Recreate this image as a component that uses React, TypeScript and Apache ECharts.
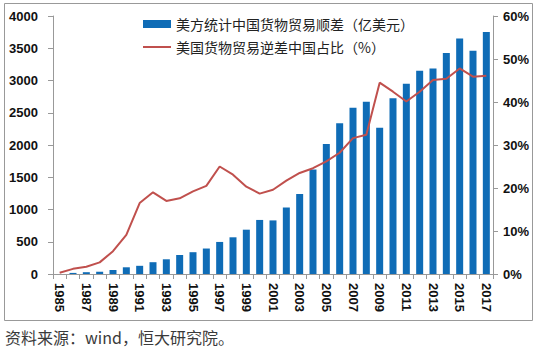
import React, { useEffect, useRef } from "react";
import * as echarts from "echarts";

const years = [
  "1985","1986","1987","1988","1989","1990","1991","1992","1993","1994","1995",
  "1996","1997","1998","1999","2000","2001","2002","2003","2004","2005","2006",
  "2007","2008","2009","2010","2011","2012","2013","2014","2015","2016","2017",
];
const surplus = [
  0, 17, 28, 35, 62, 104, 127, 183, 228, 295, 338,
  395, 497, 569, 687, 838, 831, 1031, 1240, 1620, 2016, 2336,
  2578, 2672, 2268, 2726, 2950, 3152, 3186, 3428, 3652, 3460, 3752,
];
const share = [
  0.3, 1.2, 1.7, 2.7, 5.3, 9.1, 16.5, 19.0, 17.0, 17.6, 19.2,
  20.5, 25.0, 23.1, 20.3, 18.7, 19.6, 21.7, 23.5, 24.6, 26.2, 28.2,
  31.6, 32.4, 44.5, 42.4, 40.1, 42.4, 45.1, 45.4, 47.8, 45.9, 46.1,
];
const barName = "美方统计中国货物贸易顺差（亿美元）";
const lineName = "美国货物贸易逆差中国占比（%）";
const sourceText = "资料来源：wind，恒大研究院。";

export default function App() {
  const ref = useRef<HTMLDivElement>(null);
  useEffect(() => {
    const chart = echarts.init(ref.current!, undefined, { renderer: "svg" });
    const axisFont = { fontFamily: "Liberation Sans, Arial", fontWeight: "bold", fontSize: 13, color: "#111" };
    const legendText = { fontFamily: "Noto Sans CJK SC", fontSize: 14, color: "#222" };
    chart.setOption({
      animation: false,
      backgroundColor: "#fff",
      grid: { left: 53, right: 44, top: 16, bottom: 78 },
      legend: [
        {
          left: 138,
          top: 12,
          itemWidth: 28,
          itemHeight: 8,
          textStyle: legendText,
          data: [{ name: barName, icon: "rect" }],
        },
        {
          left: 138,
          top: 35,
          itemWidth: 28,
          itemHeight: 2,
          textStyle: legendText,
          data: [{ name: lineName, icon: "rect" }],
        },
      ],
      xAxis: {
        type: "category",
        data: years,
        axisLine: { lineStyle: { color: "#999" } },
        axisTick: { show: true, alignWithLabel: false, interval: 0, length: 5, lineStyle: { color: "#999" } },
        axisLabel: { ...axisFont, rotate: -90, interval: 1, margin: 9 },
      },
      yAxis: [
        {
          type: "value",
          min: 0,
          max: 4000,
          interval: 500,
          splitLine: { show: false },
          axisLine: { show: true, lineStyle: { color: "#999" } },
          axisTick: { show: true, length: 5, lineStyle: { color: "#999" } },
          axisLabel: { ...axisFont, margin: 15, formatter: (v: number) => String(v) },
        },
        {
          type: "value",
          min: 0,
          max: 60,
          interval: 10,
          position: "right",
          splitLine: { show: false },
          axisLine: { show: true, lineStyle: { color: "#999" } },
          axisTick: { show: true, length: 5, lineStyle: { color: "#999" } },
          axisLabel: { ...axisFont, margin: 10, formatter: "{value}%" },
        },
      ],
      series: [
        {
          name: barName,
          type: "bar",
          data: surplus,
          barWidth: 7,
          itemStyle: { color: "#0f6cb6" },
        },
        {
          name: lineName,
          type: "line",
          yAxisIndex: 1,
          data: share,
          symbol: "none",
          lineStyle: { color: "#c0504d", width: 2 },
          itemStyle: { color: "#c0504d" },
        },
      ],
      graphic: [
        {
          type: "rect",
          shape: { x: 4.5, y: 3.5, width: 528, height: 317 },
          style: { fill: "none", stroke: "#999", lineWidth: 1 },
          silent: true,
        },
        {
          type: "text",
          left: 5,
          top: 329,
          style: { text: sourceText, fontFamily: "Noto Sans CJK SC", fontSize: 16, fill: "#3a3a3a" },
        },
      ],
    });
    return () => chart.dispose();
  }, []);
  return (
    <div style={{ position: "fixed", left: 0, top: 0, width: 537, height: 352, background: "#fff" }}>
      <div ref={ref} style={{ width: 537, height: 352 }} />
    </div>
  );
}
